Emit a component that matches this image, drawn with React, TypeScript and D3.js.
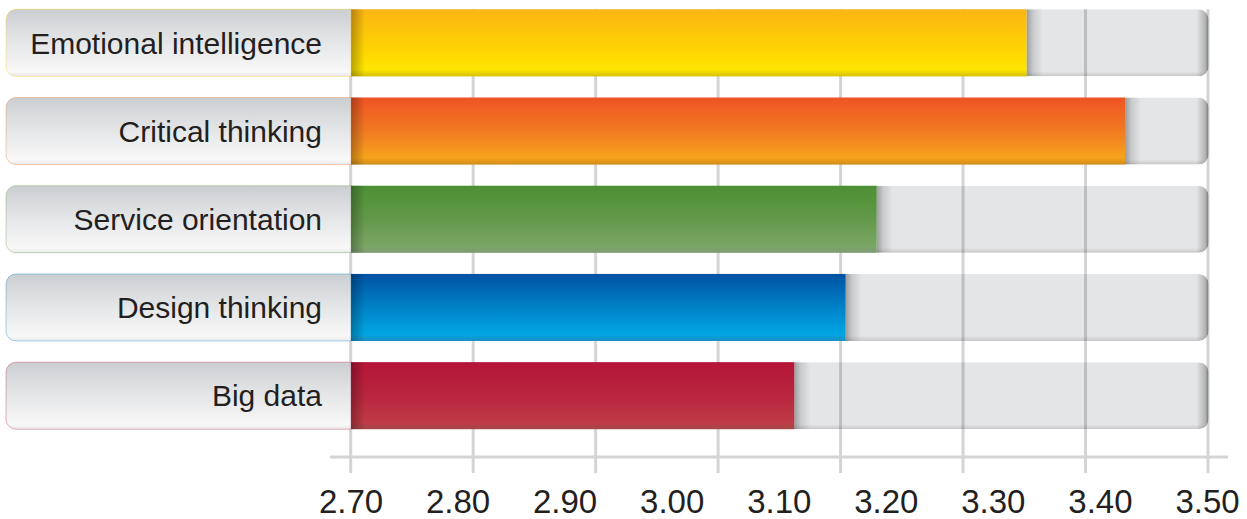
import React from "react";
import * as d3 from "d3";

// ---- data ----
const categories = [
  "Emotional intelligence",
  "Critical thinking",
  "Service orientation",
  "Design thinking",
  "Big data",
];
const values = [3.331, 3.423, 3.191, 3.162, 3.114];
const tickValues = [2.7, 2.8, 2.9, 3.0, 3.1, 3.2, 3.3, 3.4, 3.5];
const gridLineCount = 8;

// ---- styles ----
const barColors = [
  { top: "#fcb514", mid: "#fdcf04", bottom: "#ffe500", edge: "#d6c000" },
  { top: "#ef5323", mid: "#f27a22", bottom: "#f7a31b", edge: "#d18c18" },
  { top: "#4d8f33", mid: "#63994a", bottom: "#7aa665", edge: "#7f9c72" },
  { top: "#0052a3", mid: "#0082c7", bottom: "#00a6e3", edge: "#1a8fc4" },
  { top: "#b51437", mid: "#b9263e", bottom: "#bf3a46", edge: "#a34848" },
];

const W = 1247;
const H = 519;
const FONT = "'Liberation Sans', Arial, Helvetica, sans-serif";

export default function App() {
  const x = d3.scaleLinear().domain([2.7, 3.5]).range([351, 1207.5]);
  const grid = d3
    .scaleLinear()
    .domain([0, gridLineCount - 1])
    .range([350.7, 1208]);
  const y = d3
    .scaleBand<string>()
    .domain(categories)
    .range([9.3, 429.2])
    .paddingInner(0.24)
    .paddingOuter(0);

  const x0 = 6;
  const x1 = 1208.5;
  const r = 10;
  const xs = x(2.7);
  const axisY = 457;
  const bw = y.bandwidth();

  const rowPath = (y0: number, y1: number) =>
    `M${x0 + r},${y0} H${x1 - r} A${r},${r} 0 0 1 ${x1},${y0 + r} V${y1 - r} A${r},${r} 0 0 1 ${x1 - r},${y1} H${x0 + r} A${r},${r} 0 0 1 ${x0},${y1 - r} V${y0 + r} A${r},${r} 0 0 1 ${x0 + r},${y0} Z`;
  const labelPath = (y0: number, y1: number) =>
    `M${x0 + r},${y0} H${xs} V${y1} H${x0 + r} A${r},${r} 0 0 1 ${x0},${y1 - r} V${y0 + r} A${r},${r} 0 0 1 ${x0 + r},${y0} Z`;

  return (
    <svg
      width={W}
      height={H}
      style={{ position: "absolute", left: 0, top: 0, background: "#fff" }}
    >
      <defs>
        <linearGradient id="labelGrad" x1="0" y1="0" x2="0" y2="1">
          <stop offset="0" stopColor="#cbced1" />
          <stop offset="0.45" stopColor="#e3e4e6" />
          <stop offset="0.93" stopColor="#f8f8f8" />
          <stop offset="1" stopColor="#e9e9ea" />
        </linearGradient>
        <linearGradient id="trackRight" x1="0" y1="0" x2="1" y2="0">
          <stop offset="0" stopColor="#000" stopOpacity="0" />
          <stop offset="1" stopColor="#000" stopOpacity="0.3" />
        </linearGradient>
        <linearGradient id="trackBottom" x1="0" y1="0" x2="0" y2="1">
          <stop offset="0" stopColor="#000" stopOpacity="0" />
          <stop offset="1" stopColor="#000" stopOpacity="0.13" />
        </linearGradient>
        <linearGradient id="shadowR" x1="0" y1="0" x2="1" y2="0">
          <stop offset="0" stopColor="#000" stopOpacity="0.32" />
          <stop offset="0.4" stopColor="#000" stopOpacity="0.12" />
          <stop offset="1" stopColor="#000" stopOpacity="0" />
        </linearGradient>
        <linearGradient id="shadowL" x1="0" y1="0" x2="1" y2="0">
          <stop offset="0" stopColor="#000" stopOpacity="0.28" />
          <stop offset="1" stopColor="#000" stopOpacity="0" />
        </linearGradient>
        {barColors.map((c, i) => (
          <linearGradient key={i} id={`bar${i}`} x1="0" y1="0" x2="0" y2="1">
            <stop offset="0" stopColor={c.top} />
            <stop offset="0.5" stopColor={c.mid} />
            <stop offset="0.9" stopColor={c.bottom} />
            <stop offset="1" stopColor={c.edge} />
          </linearGradient>
        ))}
        {categories.map((cat, i) => {
          const y0 = y(cat)!;
          return (
            <clipPath key={i} id={`clip${i}`}>
              <path d={rowPath(y0, y0 + bw)} />
            </clipPath>
          );
        })}
      </defs>

      {/* tracks */}
      {categories.map((cat, i) => {
        const y0 = y(cat)!;
        return (
          <g key={`t${i}`} clipPath={`url(#clip${i})`}>
            <path d={rowPath(y0, y0 + bw)} fill="#e4e5e7" />
            <rect x={x1 - 12} y={y0} width={12} height={bw} fill="url(#trackRight)" />
            <rect x={x0} y={y0 + bw - 5} width={x1 - x0} height={5} fill="url(#trackBottom)" />
          </g>
        );
      })}

      {/* grid lines */}
      {d3.range(gridLineCount).map((g) => (
        <line
          key={`g${g}`}
          x1={grid(g)}
          x2={grid(g)}
          y1={y(categories[0])!}
          y2={473}
          stroke="#000"
          strokeOpacity={0.17}
          strokeWidth={3}
        />
      ))}

      {/* axis line */}
      <line x1={330} x2={1228} y1={axisY} y2={axisY} stroke="#d4d4d4" strokeWidth={3} />

      {/* bars + labels */}
      {categories.map((cat, i) => {
        const y0 = y(cat)!;
        const xe = x(values[i]);
        return (
          <g key={`b${i}`}>
            <g clipPath={`url(#clip${i})`}>
              <rect x={xe} y={y0} width={16} height={bw} fill="url(#shadowR)" />
            </g>
            <rect x={xs} y={y0} width={xe - xs} height={bw} fill={`url(#bar${i})`} />
            <rect x={xs} y={y0} width={14} height={bw} fill="url(#shadowL)" />
            <path
              d={labelPath(y0, y0 + bw)}
              fill="url(#labelGrad)"
              stroke={barColors[i].mid}
              strokeOpacity={0.35}
              strokeWidth={1}
            />
            <text
              x={322}
              y={y0 + bw / 2 + 10.8}
              textAnchor="end"
              fontFamily={FONT}
              fontSize={30}
              fill="#231f20"
            >
              {cat}
            </text>
          </g>
        );
      })}

      {/* tick labels */}
      {tickValues.map((t) => (
        <text
          key={`l${t}`}
          x={x(t)}
          y={513}
          textAnchor="middle"
          fontFamily={FONT}
          fontSize={33}
          fill="#231f20"
        >
          {d3.format(".2f")(t)}
        </text>
      ))}
    </svg>
  );
}
